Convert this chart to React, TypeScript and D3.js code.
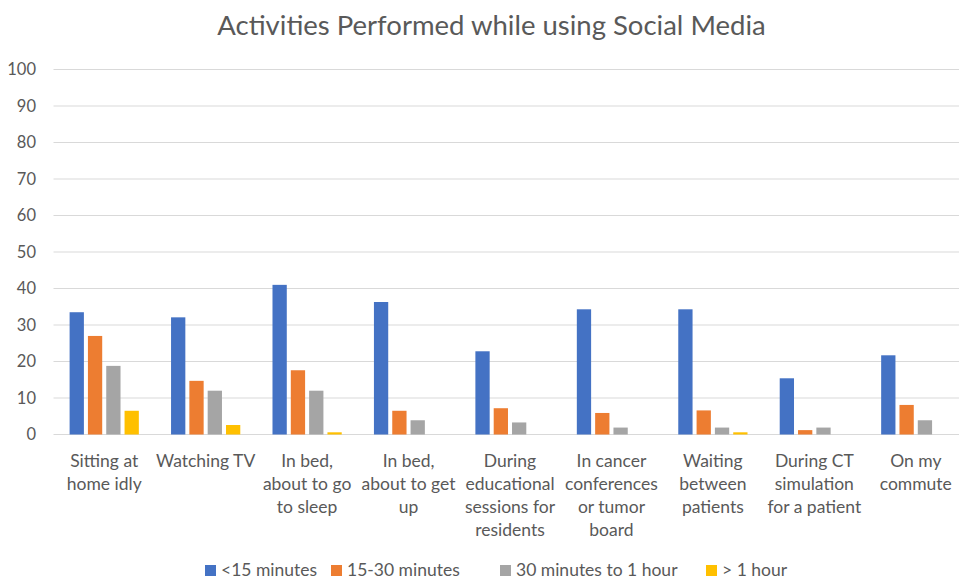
import React from "react";
import * as d3 from "d3";

const categories: string[][] = [
  ["Sitting at", "home idly"],
  ["Watching TV"],
  ["In bed,", "about to go", "to sleep"],
  ["In bed,", "about to get", "up"],
  ["During", "educational", "sessions for", "residents"],
  ["In cancer", "conferences", "or tumor", "board"],
  ["Waiting", "between", "patients"],
  ["During CT", "simulation", "for a patient"],
  ["On my", "commute"],
];
const seriesNames = ["<15 minutes", "15-30 minutes", "30 minutes to 1 hour", "> 1 hour"];
const under15 = [33.5, 32.1, 41.0, 36.3, 22.8, 34.3, 34.3, 15.4, 21.7];
const m15to30 = [27.0, 14.7, 17.6, 6.5, 7.2, 5.9, 6.6, 1.2, 8.1];
const m30to60 = [18.8, 12.0, 12.0, 3.9, 3.3, 1.9, 1.9, 1.9, 3.9];
const over60 = [6.5, 2.6, 0.6, 0, 0, 0, 0.6, 0, 0];
const yTicks = [0, 10, 20, 30, 40, 50, 60, 70, 80, 90, 100];
const colors = ["#4472C4", "#ED7D31", "#A5A5A5", "#FFC000"];

const W = 959;
const H = 579;
const FONT = "Lato, 'Open Sans', sans-serif";
const TEXT = "#595959";

export default function App() {
  const series = [under15, m15to30, m30to60, over60];
  const idx = categories.map((_, i) => String(i));
  const p = 0.3175;
  const x0 = d3.scaleBand<string>().domain(idx).range([53.5, 966.5]).paddingInner(p).paddingOuter(p / 2);
  const x1 = d3
    .scaleBand<string>()
    .domain(seriesNames)
    .range([0, x0.bandwidth()])
    .paddingInner(0.22)
    .paddingOuter(0);
  const y = d3.scaleLinear().domain([0, 100]).range([434.5, 69.5]);
  const step = x0.step();

  const legendX = [205, 331, 500, 706];

  return (
    <svg
      width={W}
      height={H}
      style={{ position: "absolute", left: 0, top: 0, background: "#fff" }}
      fontFamily={FONT}
    >
      <rect x={0} y={0} width={W} height={H} fill="#fff" />
      <text x={491.5} y={35} textAnchor="middle" fontSize={27.5} fill={TEXT}>
        Activities Performed while using Social Media
      </text>
      {yTicks.map((t) => (
        <g key={t}>
          <line x1={53.5} x2={W} y1={y(t)} y2={y(t)} stroke="#D9D9D9" strokeWidth={1.2} />
          <text x={36} y={y(t)} dy="0.35em" textAnchor="end" fontSize={16.5} fill={TEXT}>
            {t}
          </text>
        </g>
      ))}
      {idx.map((c, ci) => (
        <g key={c} transform={`translate(${x0(c)},0)`}>
          {series.map((s, si) =>
            s[ci] > 0 ? (
              <rect
                key={si}
                x={x1(seriesNames[si])}
                y={y(s[ci])}
                width={x1.bandwidth()}
                height={y(0) - y(s[ci])}
                fill={colors[si]}
              />
            ) : null
          )}
        </g>
      ))}
      {categories.map((lines, ci) => {
        const cx = (x0(String(ci)) as number) - (step * p) / 2 + step / 2;
        return (
          <text key={ci} textAnchor="middle" fontSize={17.5} fill={TEXT}>
            {lines.map((ln, li) => (
              <tspan key={li} x={cx} y={467 + li * 23.1}>
                {ln}
              </tspan>
            ))}
          </text>
        );
      })}
      {seriesNames.map((n, i) => (
        <g key={n}>
          <rect x={legendX[i]} y={565} width={11} height={11} fill={colors[i]} />
          <text x={legendX[i] + 16} y={576} fontSize={17.5} fill={TEXT}>
            {n}
          </text>
        </g>
      ))}
    </svg>
  );
}
